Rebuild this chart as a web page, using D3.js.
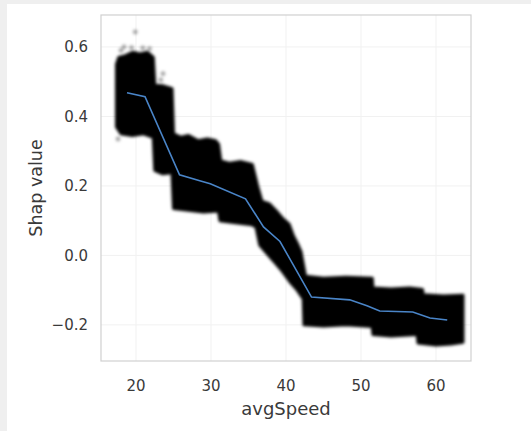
<!DOCTYPE html>
<html>
<head>
<meta charset="utf-8">
<script src="https://cdn.jsdelivr.net/npm/d3@7"></script>
<style>
  html, body { margin: 0; padding: 0; background: #efefef; }
  svg { display: block; }
  text { font-family: "DejaVu Sans", sans-serif; fill: #3a3a3a; }
</style>
</head>
<body>
<div id="chart"></div>
<script>
const width = 531, height = 431;

// tick labels
const xTicks = [20, 30, 40, 50, 60];
const yTicks = [-0.2, 0.0, 0.2, 0.4, 0.6];

// upper edge of the scatter cloud, left to right
const topX = [17.4, 17.7, 18.6, 19.6, 20.5, 21.5, 22.3, 22.5, 23.6, 24.8, 25.0, 26.0, 27.0, 28.3, 29.5, 30.6, 31.0, 31.3, 32.5, 34.0, 35.5, 36.2, 36.8, 37.8, 38.7, 39.6, 40.4, 41.0, 41.6, 42.0, 42.6, 45.0, 48.0, 51.5, 51.6, 54.0, 56.5, 58.2, 58.3, 61.0, 63.6];
const topY = [0.55, 0.57, 0.575, 0.585, 0.58, 0.585, 0.57, 0.49, 0.488, 0.48, 0.35, 0.34, 0.345, 0.33, 0.335, 0.33, 0.32, 0.272, 0.265, 0.27, 0.262, 0.2, 0.155, 0.148, 0.128, 0.105, 0.09, 0.055, 0.03, 0.01, -0.06, -0.066, -0.063, -0.066, -0.094, -0.097, -0.094, -0.098, -0.113, -0.117, -0.115];

// lower edge of the scatter cloud, left to right
const botX = [17.4, 18.0, 19.5, 21.0, 22.3, 22.5, 23.5, 24.8, 25.0, 27.0, 29.0, 31.0, 31.2, 33.0, 35.5, 36.0, 36.5, 37.5, 38.5, 39.5, 40.5, 41.5, 42.3, 42.4, 45.0, 48.0, 51.5, 51.6, 54.0, 57.5, 57.6, 60.0, 62.0, 63.6];
const botY = [0.37, 0.35, 0.345, 0.35, 0.34, 0.245, 0.235, 0.238, 0.135, 0.13, 0.125, 0.128, 0.1, 0.095, 0.088, 0.082, 0.03, 0.005, -0.02, -0.045, -0.075, -0.1, -0.125, -0.2, -0.203, -0.2, -0.205, -0.228, -0.232, -0.228, -0.252, -0.258, -0.255, -0.25];

// sparse points outside the cloud
const outX = [19.9, 23.6, 18.4, 19.4, 20.9, 21.8, 18.0, 17.6, 23.3];
const outY = [0.643, 0.523, 0.6, 0.598, 0.597, 0.595, 0.59, 0.335, 0.505];

// trend line
const lineX = [18.8, 21.2, 25.8, 28.5, 29.9, 34.6, 37.0, 39.2, 43.4, 48.5, 50.8, 52.5, 56.9, 59.2, 61.5];
const lineY = [0.468, 0.457, 0.232, 0.215, 0.206, 0.163, 0.082, 0.04, -0.12, -0.128, -0.145, -0.16, -0.163, -0.18, -0.186];

const svg = d3.select('#chart')
  .append('svg')
  .attr('width', width)
  .attr('height', height);

// white figure panel
svg.append('rect')
  .attr('x', 7).attr('y', 4)
  .attr('width', width - 7).attr('height', height - 4)
  .attr('fill', '#fff');

const plot = {left: 101, right: 471, top: 15, bottom: 361};

const x = d3.scaleLinear()
  .domain([15.33, 64.67])
  .range([plot.left, plot.right]);
const y = d3.scaleLinear()
  .domain([-0.304, 0.692])
  .range([plot.bottom, plot.top]);

// grid
svg.append('g')
  .selectAll('line.vgrid')
  .data(xTicks)
  .enter()
  .append('line')
  .attr('x1', d => x(d)).attr('x2', d => x(d))
  .attr('y1', plot.top).attr('y2', plot.bottom)
  .attr('stroke', '#f1f1f1');
svg.append('g')
  .selectAll('line.hgrid')
  .data(yTicks)
  .enter()
  .append('line')
  .attr('y1', d => y(d)).attr('y2', d => y(d))
  .attr('x1', plot.left).attr('x2', plot.right)
  .attr('stroke', '#f1f1f1');

// soft edge for the dense cloud
const defs = svg.append('defs');
defs.append('filter')
  .attr('id', 'soft')
  .attr('x', '-10%').attr('y', '-10%')
  .attr('width', '120%').attr('height', '120%')
  .append('feGaussianBlur')
  .attr('stdDeviation', 1.4);

const edge = topX.map((d, i) => [d, topY[i]])
  .concat(botX.map((d, i) => [d, botY[i]]).reverse());

const cloudLine = d3.line()
  .x(d => x(d[0]))
  .y(d => y(d[1]));

svg.append('path')
  .attr('d', cloudLine(edge) + 'Z')
  .attr('fill', '#000')
  .attr('stroke', '#000')
  .attr('stroke-width', 3)
  .attr('stroke-linejoin', 'round')
  .attr('filter', 'url(#soft)');

svg.append('g')
  .attr('filter', 'url(#soft)')
  .selectAll('circle')
  .data(outX)
  .enter()
  .append('circle')
  .attr('cx', d => x(d))
  .attr('cy', (d, i) => y(outY[i]))
  .attr('r', 2.4)
  .attr('fill', '#000')
  .attr('fill-opacity', 0.35);

// trend line
svg.append('path')
  .datum(lineX.map((d, i) => [d, lineY[i]]))
  .attr('d', cloudLine)
  .attr('fill', 'none')
  .attr('stroke', '#4a85c8')
  .attr('stroke-width', 1.6);

// frame
svg.append('rect')
  .attr('x', plot.left).attr('y', plot.top)
  .attr('width', plot.right - plot.left)
  .attr('height', plot.bottom - plot.top)
  .attr('fill', 'none')
  .attr('stroke', '#d0d0d0')
  .attr('stroke-width', 1.2);

// tick labels
svg.append('g')
  .selectAll('text')
  .data(xTicks)
  .enter()
  .append('text')
  .attr('x', d => x(d))
  .attr('y', 391)
  .attr('text-anchor', 'middle')
  .style('font-size', '15px')
  .text(d => d);

svg.append('g')
  .selectAll('text')
  .data(yTicks)
  .enter()
  .append('text')
  .attr('x', 88)
  .attr('y', d => y(d))
  .attr('dy', '0.36em')
  .attr('text-anchor', 'end')
  .style('font-size', '15px')
  .text(d => d3.format('.1f')(d).replace('-', '\u2212'));

// axis titles
svg.append('text')
  .attr('x', (plot.left + plot.right) / 2)
  .attr('y', 415)
  .attr('text-anchor', 'middle')
  .style('font-size', '18px')
  .text('avgSpeed');

svg.append('text')
  .attr('transform', `translate(42, ${(plot.top + plot.bottom) / 2}) rotate(-90)`)
  .attr('text-anchor', 'middle')
  .style('font-size', '17.5px')
  .text('Shap value');
</script>
</body>
</html>
